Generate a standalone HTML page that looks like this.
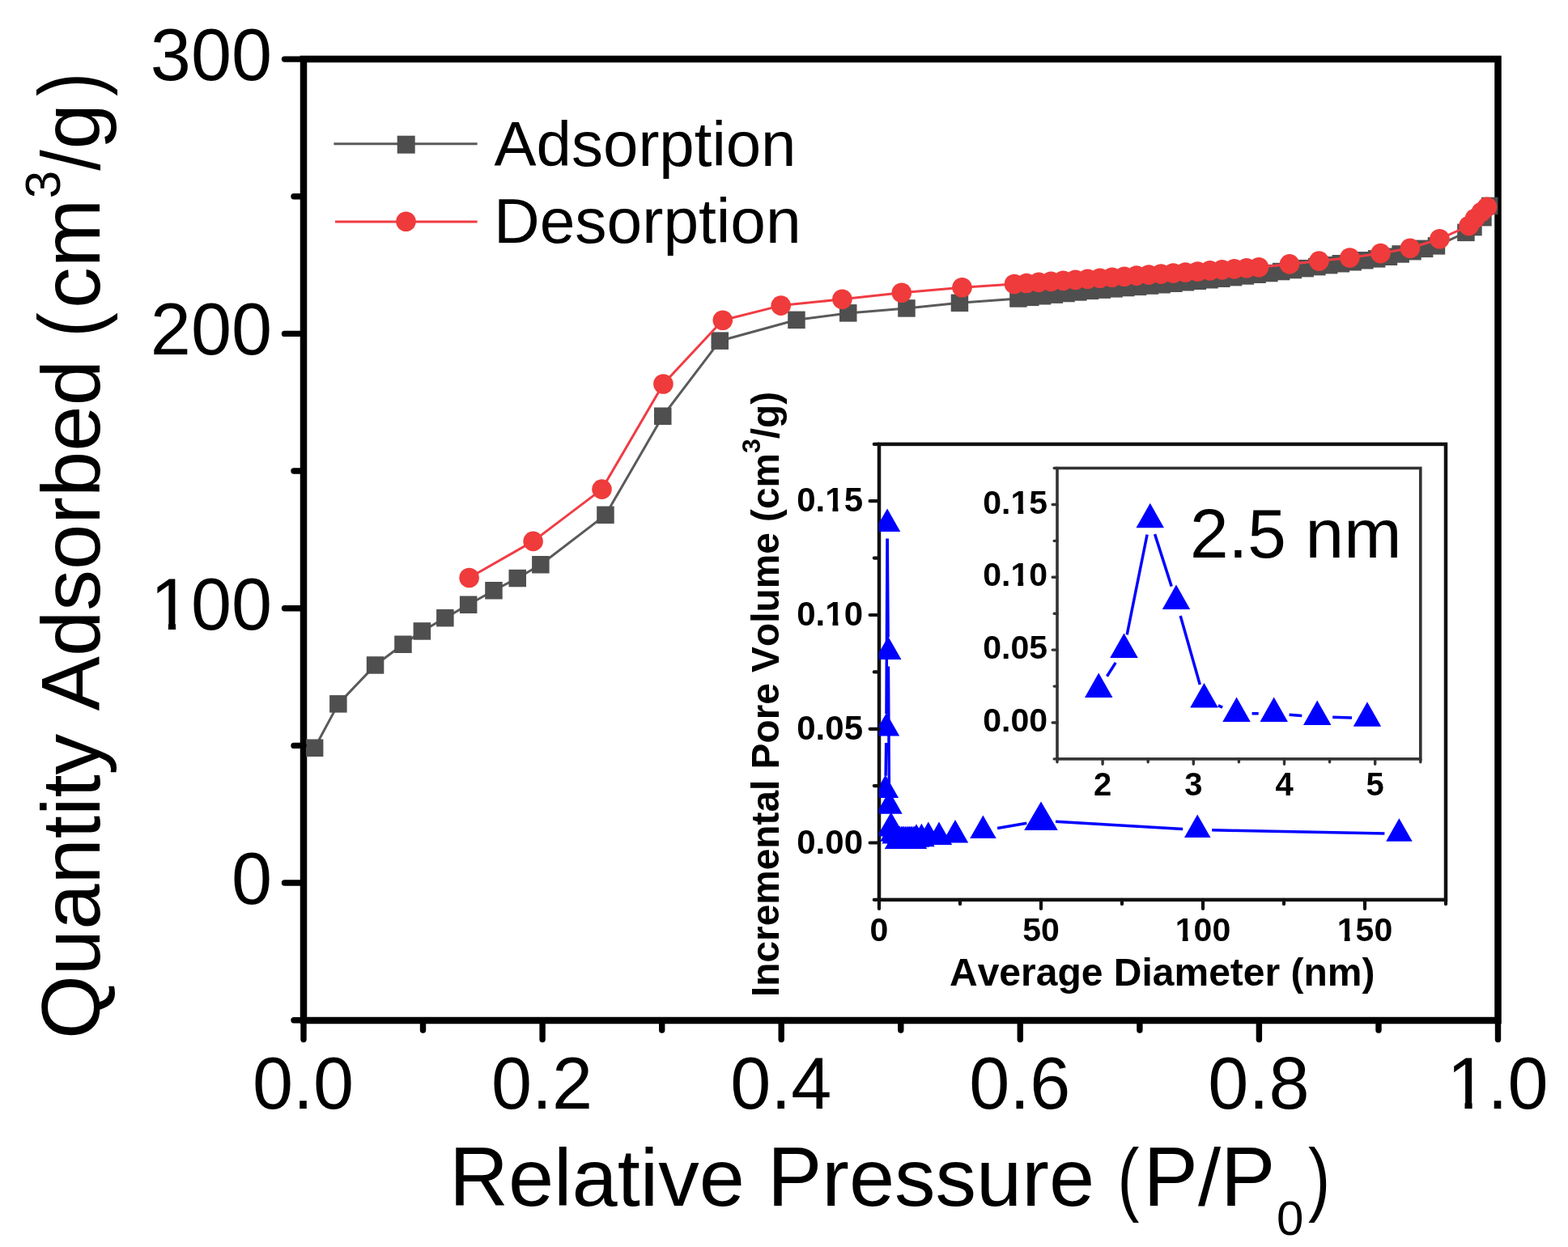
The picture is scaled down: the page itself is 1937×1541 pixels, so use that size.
<!DOCTYPE html>
<html><head><meta charset="utf-8"><title>Isotherm</title>
<style>html,body{margin:0;padding:0;background:#fff;width:1937px;height:1541px;overflow:hidden}svg{display:block;filter:blur(0.75px)}text{font-kerning:none}</style>
</head><body>
<svg width="1937" height="1541" viewBox="0 0 1937 1541">
<rect width="100%" height="100%" fill="#fff"/>
<defs><clipPath id="cm"><rect x="375.0" y="73.0" width="1475.5" height="1188.0"/></clipPath>
<clipPath id="ci"><rect x="1086.0" y="548.9" width="700.0" height="563.0000000000001"/></clipPath>
<clipPath id="cj"><rect x="1306.0" y="578.5" width="448.79999999999995" height="359.4"/></clipPath></defs>
<rect x="375.0" y="73.0" width="1475.5" height="1188.0" fill="none" stroke="#000" stroke-width="8.5"/>
<g clip-path="url(#cm)">
<polyline points="388.7,924.3 417.9,869.9 463.5,822 498,796.3 521.4,780 549.9,763.6 578.6,747.2 610,729.7 639.2,714.5 667.9,697.7 748,636.4 818.7,514.2 889.3,421.2 984,395.3 1047.8,386.9 1119.9,381 1185.4,374.3 1258,369 1272.8,367.4 1287.5,365.8 1302.3,364.2 1317,362.6 1331.8,360.9 1346.5,359.4 1361.3,358.1 1376,356.9 1390.8,355.6 1405.5,354.3 1420.3,353.1 1435.1,351.8 1449.8,350.3 1464.6,348.8 1479.3,347.3 1494.1,345.8 1508.8,344.2 1523.6,342.7 1538.3,341 1553.1,339.2 1567.9,337.5 1582.6,335.6 1597.4,333.6 1612.1,331.6 1626.9,329.6 1641.6,327.7 1656.4,325.7 1671.1,323.7 1685.9,321.8 1700.7,319.8 1715.4,317.3 1730.2,314 1744.9,310.7 1759.7,307.3 1774.4,303.9 1811,287.3 1820,280.5 1832,268.6 1841,254.4" fill="none" stroke="#5a5a5a" stroke-width="3" stroke-linejoin="round"/>
<rect x="377.9" y="913.5" width="21.5" height="21.5" fill="#4f4f4f"/>
<rect x="407.1" y="859.1" width="21.5" height="21.5" fill="#4f4f4f"/>
<rect x="452.8" y="811.2" width="21.5" height="21.5" fill="#4f4f4f"/>
<rect x="487.2" y="785.5" width="21.5" height="21.5" fill="#4f4f4f"/>
<rect x="510.6" y="769.2" width="21.5" height="21.5" fill="#4f4f4f"/>
<rect x="539.1" y="752.9" width="21.5" height="21.5" fill="#4f4f4f"/>
<rect x="567.9" y="736.5" width="21.5" height="21.5" fill="#4f4f4f"/>
<rect x="599.2" y="719" width="21.5" height="21.5" fill="#4f4f4f"/>
<rect x="628.5" y="703.8" width="21.5" height="21.5" fill="#4f4f4f"/>
<rect x="657.1" y="687" width="21.5" height="21.5" fill="#4f4f4f"/>
<rect x="737.2" y="625.6" width="21.5" height="21.5" fill="#4f4f4f"/>
<rect x="808" y="503.5" width="21.5" height="21.5" fill="#4f4f4f"/>
<rect x="878.5" y="410.4" width="21.5" height="21.5" fill="#4f4f4f"/>
<rect x="973.2" y="384.6" width="21.5" height="21.5" fill="#4f4f4f"/>
<rect x="1037" y="376.1" width="21.5" height="21.5" fill="#4f4f4f"/>
<rect x="1109.2" y="370.2" width="21.5" height="21.5" fill="#4f4f4f"/>
<rect x="1174.7" y="363.6" width="21.5" height="21.5" fill="#4f4f4f"/>
<rect x="1247.2" y="358.2" width="21.5" height="21.5" fill="#4f4f4f"/>
<rect x="1262" y="356.6" width="21.5" height="21.5" fill="#4f4f4f"/>
<rect x="1276.8" y="355" width="21.5" height="21.5" fill="#4f4f4f"/>
<rect x="1291.5" y="353.4" width="21.5" height="21.5" fill="#4f4f4f"/>
<rect x="1306.3" y="351.8" width="21.5" height="21.5" fill="#4f4f4f"/>
<rect x="1321" y="350.2" width="21.5" height="21.5" fill="#4f4f4f"/>
<rect x="1335.8" y="348.6" width="21.5" height="21.5" fill="#4f4f4f"/>
<rect x="1350.5" y="347.4" width="21.5" height="21.5" fill="#4f4f4f"/>
<rect x="1365.3" y="346.1" width="21.5" height="21.5" fill="#4f4f4f"/>
<rect x="1380" y="344.8" width="21.5" height="21.5" fill="#4f4f4f"/>
<rect x="1394.8" y="343.6" width="21.5" height="21.5" fill="#4f4f4f"/>
<rect x="1409.6" y="342.3" width="21.5" height="21.5" fill="#4f4f4f"/>
<rect x="1424.3" y="341" width="21.5" height="21.5" fill="#4f4f4f"/>
<rect x="1439.1" y="339.5" width="21.5" height="21.5" fill="#4f4f4f"/>
<rect x="1453.8" y="338" width="21.5" height="21.5" fill="#4f4f4f"/>
<rect x="1468.6" y="336.5" width="21.5" height="21.5" fill="#4f4f4f"/>
<rect x="1483.3" y="335" width="21.5" height="21.5" fill="#4f4f4f"/>
<rect x="1498.1" y="333.5" width="21.5" height="21.5" fill="#4f4f4f"/>
<rect x="1512.8" y="331.9" width="21.5" height="21.5" fill="#4f4f4f"/>
<rect x="1527.6" y="330.2" width="21.5" height="21.5" fill="#4f4f4f"/>
<rect x="1542.3" y="328.5" width="21.5" height="21.5" fill="#4f4f4f"/>
<rect x="1557.1" y="326.8" width="21.5" height="21.5" fill="#4f4f4f"/>
<rect x="1571.9" y="324.8" width="21.5" height="21.5" fill="#4f4f4f"/>
<rect x="1586.6" y="322.8" width="21.5" height="21.5" fill="#4f4f4f"/>
<rect x="1601.4" y="320.9" width="21.5" height="21.5" fill="#4f4f4f"/>
<rect x="1616.1" y="318.9" width="21.5" height="21.5" fill="#4f4f4f"/>
<rect x="1630.9" y="316.9" width="21.5" height="21.5" fill="#4f4f4f"/>
<rect x="1645.6" y="315" width="21.5" height="21.5" fill="#4f4f4f"/>
<rect x="1660.4" y="313" width="21.5" height="21.5" fill="#4f4f4f"/>
<rect x="1675.1" y="311" width="21.5" height="21.5" fill="#4f4f4f"/>
<rect x="1689.9" y="309.1" width="21.5" height="21.5" fill="#4f4f4f"/>
<rect x="1704.7" y="306.5" width="21.5" height="21.5" fill="#4f4f4f"/>
<rect x="1719.4" y="303.2" width="21.5" height="21.5" fill="#4f4f4f"/>
<rect x="1734.2" y="299.9" width="21.5" height="21.5" fill="#4f4f4f"/>
<rect x="1748.9" y="296.6" width="21.5" height="21.5" fill="#4f4f4f"/>
<rect x="1763.7" y="293.1" width="21.5" height="21.5" fill="#4f4f4f"/>
<rect x="1800.2" y="276.6" width="21.5" height="21.5" fill="#4f4f4f"/>
<rect x="1809.2" y="269.8" width="21.5" height="21.5" fill="#4f4f4f"/>
<rect x="1821.2" y="257.9" width="21.5" height="21.5" fill="#4f4f4f"/>
<rect x="1830.2" y="243.7" width="21.5" height="21.5" fill="#4f4f4f"/>
<polyline points="579.6,714 658.6,668.9 743.5,604.6 819.4,474.5 892.8,395.7 964.7,377.6 1040.4,369.8 1113.8,361.8 1188.5,355.3 1253,351 1268.1,350 1283.2,348.9 1298.3,347.9 1313.4,346.9 1328.5,345.8 1343.6,344.8 1358.7,343.8 1373.8,342.7 1388.9,341.7 1404,340.6 1419.1,339.6 1434.2,338.6 1449.3,337.5 1464.4,336.5 1479.5,335.5 1494.6,334.4 1509.7,333.4 1524.8,332.4 1539.9,331.3 1555,330.3 1593,326.4 1629.4,322.6 1667.4,318.5 1705.5,313.1 1741.9,306.8 1778.4,295.3 1814.5,279 1822,270 1830,262 1837,255.8" fill="none" stroke="#f03c44" stroke-width="3" stroke-linejoin="round"/>
<circle cx="579.6" cy="714" r="12.3" fill="#ef3b3b"/>
<circle cx="658.6" cy="668.9" r="12.3" fill="#ef3b3b"/>
<circle cx="743.5" cy="604.6" r="12.3" fill="#ef3b3b"/>
<circle cx="819.4" cy="474.5" r="12.3" fill="#ef3b3b"/>
<circle cx="892.8" cy="395.7" r="12.3" fill="#ef3b3b"/>
<circle cx="964.7" cy="377.6" r="12.3" fill="#ef3b3b"/>
<circle cx="1040.4" cy="369.8" r="12.3" fill="#ef3b3b"/>
<circle cx="1113.8" cy="361.8" r="12.3" fill="#ef3b3b"/>
<circle cx="1188.5" cy="355.3" r="12.3" fill="#ef3b3b"/>
<circle cx="1253" cy="351" r="12.3" fill="#ef3b3b"/>
<circle cx="1268.1" cy="350" r="12.3" fill="#ef3b3b"/>
<circle cx="1283.2" cy="348.9" r="12.3" fill="#ef3b3b"/>
<circle cx="1298.3" cy="347.9" r="12.3" fill="#ef3b3b"/>
<circle cx="1313.4" cy="346.9" r="12.3" fill="#ef3b3b"/>
<circle cx="1328.5" cy="345.8" r="12.3" fill="#ef3b3b"/>
<circle cx="1343.6" cy="344.8" r="12.3" fill="#ef3b3b"/>
<circle cx="1358.7" cy="343.8" r="12.3" fill="#ef3b3b"/>
<circle cx="1373.8" cy="342.7" r="12.3" fill="#ef3b3b"/>
<circle cx="1388.9" cy="341.7" r="12.3" fill="#ef3b3b"/>
<circle cx="1404" cy="340.6" r="12.3" fill="#ef3b3b"/>
<circle cx="1419.1" cy="339.6" r="12.3" fill="#ef3b3b"/>
<circle cx="1434.2" cy="338.6" r="12.3" fill="#ef3b3b"/>
<circle cx="1449.3" cy="337.5" r="12.3" fill="#ef3b3b"/>
<circle cx="1464.4" cy="336.5" r="12.3" fill="#ef3b3b"/>
<circle cx="1479.5" cy="335.5" r="12.3" fill="#ef3b3b"/>
<circle cx="1494.6" cy="334.4" r="12.3" fill="#ef3b3b"/>
<circle cx="1509.7" cy="333.4" r="12.3" fill="#ef3b3b"/>
<circle cx="1524.8" cy="332.4" r="12.3" fill="#ef3b3b"/>
<circle cx="1539.9" cy="331.3" r="12.3" fill="#ef3b3b"/>
<circle cx="1555" cy="330.3" r="12.3" fill="#ef3b3b"/>
<circle cx="1593" cy="326.4" r="12.3" fill="#ef3b3b"/>
<circle cx="1629.4" cy="322.6" r="12.3" fill="#ef3b3b"/>
<circle cx="1667.4" cy="318.5" r="12.3" fill="#ef3b3b"/>
<circle cx="1705.5" cy="313.1" r="12.3" fill="#ef3b3b"/>
<circle cx="1741.9" cy="306.8" r="12.3" fill="#ef3b3b"/>
<circle cx="1778.4" cy="295.3" r="12.3" fill="#ef3b3b"/>
<circle cx="1814.5" cy="279" r="12.3" fill="#ef3b3b"/>
<circle cx="1822" cy="270" r="12.3" fill="#ef3b3b"/>
<circle cx="1830" cy="262" r="12.3" fill="#ef3b3b"/>
<circle cx="1837" cy="255.8" r="12.3" fill="#ef3b3b"/>
</g>
<path d="M375.0 73.1H351.5 M375.0 412.4H351.5 M375.0 751.7H351.5 M375.0 1091H351.5 M375.0 242.8H363 M375.0 582H363 M375.0 921.4H363 M375.0 1260.7H363 M375 1261.0V1284.5 M670.1 1261.0V1284.5 M965.2 1261.0V1284.5 M1260.3 1261.0V1284.5 M1555.4 1261.0V1284.5 M1850.5 1261.0V1284.5 M522.5 1261.0V1273 M817.7 1261.0V1273 M1112.8 1261.0V1273 M1407.9 1261.0V1273 M1703 1261.0V1273" stroke="#000" stroke-width="7.4" stroke-linecap="round" fill="none"/>
<text x="336" y="99.1" font-family="'Liberation Sans', Arial, sans-serif" font-size="90" text-anchor="end">300</text>
<text x="336" y="438.4" font-family="'Liberation Sans', Arial, sans-serif" font-size="90" text-anchor="end">200</text>
<text x="336" y="777.7" font-family="'Liberation Sans', Arial, sans-serif" font-size="90" text-anchor="end">100</text>
<rect x="191.2" y="769.4" width="16.7" height="10.3" fill="#fff"/>
<rect x="217" y="769.4" width="16.6" height="10.3" fill="#fff"/>
<text x="336" y="1117" font-family="'Liberation Sans', Arial, sans-serif" font-size="90" text-anchor="end">0</text>
<text x="374.5" y="1369.5" font-family="'Liberation Sans', Arial, sans-serif" font-size="90" text-anchor="middle">0.0</text>
<text x="669.6" y="1369.5" font-family="'Liberation Sans', Arial, sans-serif" font-size="90" text-anchor="middle">0.2</text>
<text x="964.7" y="1369.5" font-family="'Liberation Sans', Arial, sans-serif" font-size="90" text-anchor="middle">0.4</text>
<text x="1259.8" y="1369.5" font-family="'Liberation Sans', Arial, sans-serif" font-size="90" text-anchor="middle">0.6</text>
<text x="1554.9" y="1369.5" font-family="'Liberation Sans', Arial, sans-serif" font-size="90" text-anchor="middle">0.8</text>
<text x="1850" y="1369.5" font-family="'Liberation Sans', Arial, sans-serif" font-size="90" text-anchor="middle">1.0</text>
<rect x="1792.8" y="1361.2" width="16.7" height="10.3" fill="#fff"/>
<rect x="1818.6" y="1361.2" width="16.6" height="10.3" fill="#fff"/>
<text transform="translate(555,1490) scale(1,1.035)" font-family="'Liberation Sans', Arial, sans-serif" font-size="101">R</text>
<text x="627.9" y="1490" font-family="'Liberation Sans', Arial, sans-serif" font-size="101">elative</text>
<text transform="translate(948,1490) scale(1,1.035)" font-family="'Liberation Sans', Arial, sans-serif" font-size="101">P</text>
<text x="1015.3" y="1490" font-family="'Liberation Sans', Arial, sans-serif" font-size="101">ressure</text>
<text transform="translate(1380.5,1490) scale(0.8,1)" font-family="'Liberation Sans', Arial, sans-serif" font-size="101">(</text>
<text transform="translate(1412.5,1490) scale(1,1.035)" font-family="'Liberation Sans', Arial, sans-serif" font-size="101">P</text>
<text x="1479.9" y="1490" font-family="'Liberation Sans', Arial, sans-serif" font-size="101">/</text>
<text transform="translate(1507.9,1490) scale(1,1.035)" font-family="'Liberation Sans', Arial, sans-serif" font-size="101">P</text>
<text x="1577" y="1525.5" font-family="'Liberation Sans', Arial, sans-serif" font-size="60">0</text>
<text transform="translate(1616.1,1490) scale(0.81,1)" font-family="'Liberation Sans', Arial, sans-serif" font-size="101">)</text>
<text transform="translate(123,1284) rotate(-90)" font-family="'Liberation Sans', Arial, sans-serif" font-size="101.3">Quantity Adsorbed</text>
<text transform="translate(123.05,416.8) rotate(-90) scale(0.906,1.068)" font-family="'Liberation Sans', Arial, sans-serif" font-size="101.5">(</text>
<text transform="translate(123,380.9) rotate(-90)" font-family="'Liberation Sans', Arial, sans-serif" font-size="101.5">cm</text>
<text transform="translate(73.5,245.2) rotate(-90)" font-family="'Liberation Sans', Arial, sans-serif" font-size="62">3</text>
<text transform="translate(123,210.7) rotate(-90) scale(0.9,1)" font-family="'Liberation Sans', Arial, sans-serif" font-size="101.5">/</text>
<text transform="translate(123,184.5) rotate(-90)" font-family="'Liberation Sans', Arial, sans-serif" font-size="101.5">g</text>
<text transform="translate(122.8,118.8) rotate(-90) scale(0.854,1.066)" font-family="'Liberation Sans', Arial, sans-serif" font-size="101.5">)</text>
<path d="M412.4 177.7H589.6" stroke="#5a5a5a" stroke-width="3"/>
<rect x="490.7" y="167.7" width="22" height="22" fill="#4f4f4f"/>
<path d="M414 274H589.6" stroke="#f03c44" stroke-width="3"/>
<circle cx="501.5" cy="273.7" r="12.3" fill="#ef3b3b"/>
<text x="610.6" y="204.5" font-family="'Liberation Sans', Arial, sans-serif" font-size="78">Adsorption</text>
<text x="610" y="300" font-family="'Liberation Sans', Arial, sans-serif" font-size="78.5">Desorption</text>
<rect x="1086.0" y="548.9" width="700.0" height="563.0000000000001" fill="none" stroke="#111" stroke-width="4.5"/>
<g clip-path="url(#ci)">
<path d="M1094.1 958.7L1094.7 918 M1095 882L1096 665.4 M1096.2 665.4L1097.1 787.5 M1097.4 823.5L1098.4 978.3 M1232.1 1023.5L1268.3 1017.3 M1304 1015.2L1461.2 1024.4 M1497.2 1025.8L1710.4 1029.9" stroke="#0000ff" stroke-width="3.5" fill="none"/>
<path d="M1093.8 957.6L1110.1 986.1L1077.6 986.1Z M1094.9 881L1111.2 909.5L1078.7 909.5Z M1096.1 628.4L1112.3 656.9L1079.8 656.9Z M1097.2 786.5L1113.5 815L1081 815Z M1098.5 977.3L1114.7 1005.8L1082.2 1005.8Z M1099.9 1004.9L1116.2 1033.4L1083.7 1033.4Z M1101.5 1004.9L1117.8 1033.4L1085.3 1033.4Z M1103.5 1011.2L1119.7 1039.7L1087.2 1039.7Z M1105.7 1013.9L1121.9 1042.4L1089.4 1042.4Z M1109 1020.5L1125.2 1049L1092.8 1049Z M1111.4 1020.5L1127.7 1049L1095.2 1049Z M1114 1020.5L1130.2 1049L1097.8 1049Z M1116.4 1020.5L1132.7 1049L1100.2 1049Z M1119 1020.5L1135.2 1049L1102.8 1049Z M1121.6 1020.5L1137.8 1049L1105.3 1049Z M1124 1020.5L1140.2 1049L1107.8 1049Z M1126.4 1020.5L1142.7 1049L1110.2 1049Z M1129 1020.5L1145.2 1049L1112.8 1049Z M1132 1018.3L1148.2 1046.8L1115.8 1046.8Z M1138.4 1017.7L1154.7 1046.2L1122.2 1046.2Z M1146.8 1015.5L1163 1044L1130.5 1044Z M1160 1015.5L1176.2 1044L1143.8 1044Z M1180 1012.9L1196.2 1041.4L1163.8 1041.4Z M1214.4 1007.6L1230.7 1036.1L1198.2 1036.1Z M1286 990.5L1306.8 1026L1265.2 1026Z M1479.2 1006.5L1495.5 1035L1463 1035Z M1728.4 1011.2L1744.7 1039.7L1712.2 1039.7Z" fill="#0000ff"/>
</g>
<path d="M1086.0 1041.5H1074.6 M1086.0 900.8H1074.6 M1086.0 760H1074.6 M1086.0 619.2H1074.6 M1086.0 1111.9H1079.8 M1086.0 971.1H1079.8 M1086.0 830.4H1079.8 M1086.0 689.6H1079.8 M1086.0 548.9H1079.8 M1086 1111.9V1123 M1286 1111.9V1123 M1486 1111.9V1123 M1686 1111.9V1123 M1186 1111.9V1117.2 M1386 1111.9V1117.2 M1586 1111.9V1117.2 M1786 1111.9V1117.2" stroke="#111" stroke-width="4.2" stroke-linecap="round" fill="none"/>
<text x="1066" y="1054.5" font-family="'Liberation Sans', Arial, sans-serif" font-weight="bold" font-size="42" text-anchor="end">0.00</text>
<text x="1066" y="913.8" font-family="'Liberation Sans', Arial, sans-serif" font-weight="bold" font-size="42" text-anchor="end">0.05</text>
<text x="1066" y="773" font-family="'Liberation Sans', Arial, sans-serif" font-weight="bold" font-size="42" text-anchor="end">0.10</text>
<rect x="1020.4" y="767.1" width="8.1" height="7.9" fill="#fff"/>
<rect x="1035.4" y="767.1" width="8.1" height="7.9" fill="#fff"/>
<text x="1066" y="632.2" font-family="'Liberation Sans', Arial, sans-serif" font-weight="bold" font-size="42" text-anchor="end">0.15</text>
<rect x="1020.4" y="626.4" width="8.1" height="7.9" fill="#fff"/>
<rect x="1035.4" y="626.4" width="8.1" height="7.9" fill="#fff"/>
<text x="1086" y="1163" font-family="'Liberation Sans', Arial, sans-serif" font-weight="bold" font-size="41" text-anchor="middle">0</text>
<text x="1286" y="1163" font-family="'Liberation Sans', Arial, sans-serif" font-weight="bold" font-size="41" text-anchor="middle">50</text>
<text x="1486" y="1163" font-family="'Liberation Sans', Arial, sans-serif" font-weight="bold" font-size="41" text-anchor="middle">100</text>
<rect x="1452.9" y="1157.2" width="7.9" height="7.8" fill="#fff"/>
<rect x="1467.6" y="1157.2" width="8" height="7.8" fill="#fff"/>
<text x="1686" y="1163" font-family="'Liberation Sans', Arial, sans-serif" font-weight="bold" font-size="41" text-anchor="middle">150</text>
<rect x="1652.9" y="1157.2" width="7.9" height="7.8" fill="#fff"/>
<rect x="1667.6" y="1157.2" width="8" height="7.8" fill="#fff"/>
<text x="1173" y="1218" font-family="'Liberation Sans', Arial, sans-serif" font-weight="bold" font-size="48">Average Diameter (nm)</text>
<text transform="translate(962,1232) rotate(-90)" font-family="'Liberation Sans', Arial, sans-serif" font-weight="bold" font-size="47.8">Incremental Pore Volume (cm<tspan font-size="32" dy="-23.5">3</tspan><tspan dy="23.5">/g)</tspan></text>
<rect x="1306.0" y="578.5" width="448.79999999999995" height="359.4" fill="#fff" stroke="none"/>
<rect x="1306.0" y="578.5" width="448.79999999999995" height="359.4" fill="none" stroke="#333" stroke-width="3.6"/>
<g clip-path="url(#cj)">
<path d="M1367.5 835.7L1378.2 818.9 M1392.2 784.3L1417.1 660.6 M1426.6 660.1L1447.2 724.6 M1458.2 761L1482.3 845.9 M1504.9 871.8L1510.2 874.2 M1546.6 881.8L1554.7 881.8 M1592.6 883.2L1608.3 884.4 M1646.2 886.3L1670 887" stroke="#0000ff" stroke-width="3.5" fill="none"/>
<path d="M1357.2 831.4L1374.5 861.9L1340 861.9Z M1388.5 782.6L1405.8 813.1L1371.2 813.1Z M1420.8 621.7L1438 652.2L1403.5 652.2Z M1453 722.4L1470.2 752.9L1435.8 752.9Z M1487.5 843.9L1504.8 874.4L1470.2 874.4Z M1527.6 861.5L1544.8 892L1510.3 892Z M1573.7 861.5L1591 892L1556.5 892Z M1627.2 865.5L1644.5 896L1610 896Z M1689 867.2L1706.2 897.7L1671.8 897.7Z" fill="#0000ff"/>
</g>
<path d="M1306.0 893H1300.2 M1306.0 803.1H1300.2 M1306.0 713.3H1300.2 M1306.0 623.5H1300.2 M1306.0 937.9H1302.2 M1306.0 848.1H1302.2 M1306.0 758.2H1302.2 M1306.0 668.4H1302.2 M1306.0 578.5H1302.2 M1362.1 937.9V944.3 M1474.3 937.9V944.3 M1586.5 937.9V944.3 M1698.7 937.9V944.3 M1306 937.9V941.8 M1418.2 937.9V941.8 M1530.4 937.9V941.8 M1642.6 937.9V941.8 M1754.8 937.9V941.8" stroke="#333" stroke-width="3.4" stroke-linecap="round" fill="none"/>
<text x="1294" y="904" font-family="'Liberation Sans', Arial, sans-serif" font-weight="bold" font-size="41" text-anchor="end">0.00</text>
<text x="1294" y="814.1" font-family="'Liberation Sans', Arial, sans-serif" font-weight="bold" font-size="41" text-anchor="end">0.05</text>
<text x="1294" y="724.3" font-family="'Liberation Sans', Arial, sans-serif" font-weight="bold" font-size="41" text-anchor="end">0.10</text>
<rect x="1249.5" y="718.5" width="7.9" height="7.8" fill="#fff"/>
<rect x="1264.2" y="718.5" width="8" height="7.8" fill="#fff"/>
<text x="1294" y="634.5" font-family="'Liberation Sans', Arial, sans-serif" font-weight="bold" font-size="41" text-anchor="end">0.15</text>
<rect x="1249.5" y="628.7" width="7.9" height="7.8" fill="#fff"/>
<rect x="1264.2" y="628.7" width="8" height="7.8" fill="#fff"/>
<text x="1362.1" y="983" font-family="'Liberation Sans', Arial, sans-serif" font-weight="bold" font-size="40" text-anchor="middle">2</text>
<text x="1474.3" y="983" font-family="'Liberation Sans', Arial, sans-serif" font-weight="bold" font-size="40" text-anchor="middle">3</text>
<text x="1586.5" y="983" font-family="'Liberation Sans', Arial, sans-serif" font-weight="bold" font-size="40" text-anchor="middle">4</text>
<text x="1698.7" y="983" font-family="'Liberation Sans', Arial, sans-serif" font-weight="bold" font-size="40" text-anchor="middle">5</text>
<text x="1470" y="689" font-family="'Liberation Sans', Arial, sans-serif" font-size="85.5">2.5 nm</text>
</svg>
</body></html>
